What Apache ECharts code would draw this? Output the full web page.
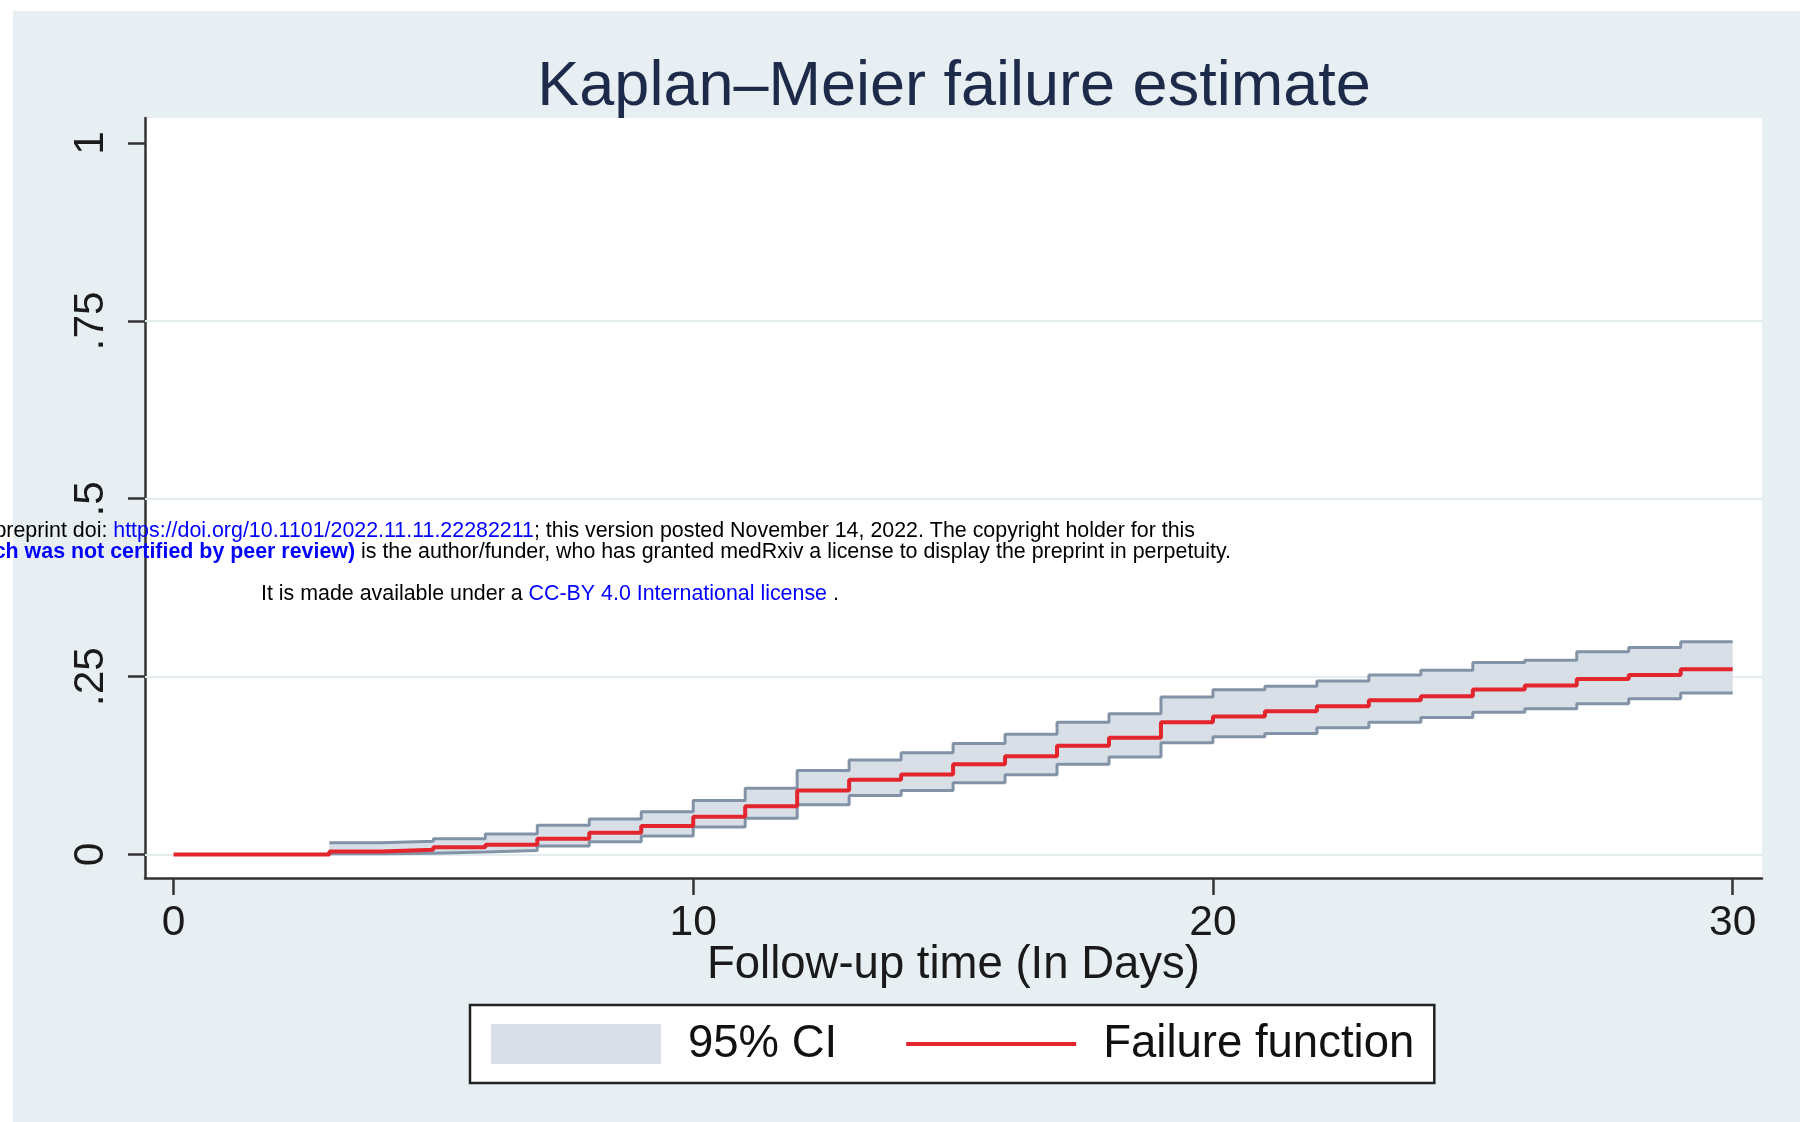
<!DOCTYPE html>
<html>
<head>
<meta charset="utf-8">
<script src="https://cdn.jsdelivr.net/npm/echarts@6/dist/echarts.min.js"></script>
<style>
html,body{margin:0;padding:0;background:#ffffff;}
#chart{width:1800px;height:1122px;}
</style>
</head>
<body>
<div id="chart"></div>
<script>
// ---- data ----
const times = [0,3,4,5,6,7,8,9,10,11,12,13,14,15,16,17,18,19,20,21,22,23,24,25,26,27,28,29,30];
const failure = [0,0.0042,0.0066,0.0103,0.0136,0.022,0.0305,0.040,0.053,0.068,0.090,0.105,0.1126,0.1267,0.138,0.153,0.164,0.186,0.194,0.2013,0.2083,0.2167,0.2224,0.2318,0.2374,0.2468,0.2524,0.2604,0.2604];
const ciTimes = [3,4,5,6,7,8,9,10,11,12,13,14,15,16,17,18,19,20,21,22,23,24,25,26,27,28,29,30];
const ciUpper = [0.0164,0.0188,0.022,0.029,0.041,0.050,0.060,0.076,0.093,0.118,0.133,0.143,0.156,0.169,0.186,0.198,0.2215,0.2315,0.2365,0.244,0.2524,0.259,0.2698,0.273,0.2848,0.291,0.2989,0.2989];
const ciLower = [0.001,0.0018,0.0035,0.0056,0.012,0.018,0.026,0.0385,0.051,0.070,0.083,0.090,0.101,0.112,0.1267,0.137,0.157,0.1655,0.170,0.178,0.186,0.1924,0.200,0.205,0.212,0.219,0.227,0.227];
const xTickValues = [0,10,20,30];
const yTickValues = [0,0.25,0.5,0.75,1];
const yTickLabels = ['0','.25','.5','.75','1'];
const yGridValues = [0,0.25,0.5,0.75];
const legendNames = ['95% CI','Failure function'];

const FONT = '"Liberation Sans", Arial, Helvetica, sans-serif';
const BG = '#E8EFF2';
const BAND = '#D9DFE7';
const OUTLINE = '#8293A7';
const RED = '#E3262D';
const GRID = '#E3ECEE';

const chart = echarts.init(document.getElementById('chart'), null, {renderer:'canvas'});

const bandData = ciTimes.map((t,i)=>[t, ciLower[i], ciUpper[i]]);
const lowerData = ciTimes.map((t,i)=>[t, ciLower[i]]);
const upperData = ciTimes.map((t,i)=>[t, ciUpper[i]]);
const failData = times.map((t,i)=>[t, failure[i]]);

function renderBand(params, api){
  if (params.dataIndex !== 0) return null;
  const n = ciTimes.length;
  const pts = [];
  for (let i=0;i<n;i++){
    pts.push(api.coord([ciTimes[i], ciUpper[i]]));
    if (i<n-1) pts.push(api.coord([ciTimes[i+1], ciUpper[i]]));
  }
  for (let i=n-1;i>=0;i--){
    if (i<n-1) pts.push(api.coord([ciTimes[i+1], ciLower[i]]));
    pts.push(api.coord([ciTimes[i], ciLower[i]]));
  }
  return {type:'polygon', shape:{points:pts}, style:{fill:BAND}, silent:true};
}

const option = {
  animation:false,
  backgroundColor: BG,
  textStyle:{fontFamily:FONT},
  title:{
    text:'Kaplan\u2013Meier failure estimate',
    left:954, top:56, padding:0,
    textAlign:'center',
    textStyle:{fontFamily:FONT, fontSize:63, fontWeight:'normal', color:'#1E2A4A'}
  },
  grid:{
    left:145, right:38, top:118, bottom:244,
    show:true, backgroundColor:'#ffffff', borderWidth:0
  },
  legend:{
    data:[
      {name:legendNames[0], icon:'rect', itemStyle:{color:BAND, borderWidth:0}},
      {name:legendNames[1], icon:'path://M0,0H170V4H0Z', itemStyle:{color:RED, borderWidth:0}}
    ],
    left:470, top:1005,
    orient:'horizontal',
    itemWidth:170, itemHeight:40, itemGap:69,
    padding:[16,20,16,21],
    backgroundColor:'#ffffff', borderColor:'#222222', borderWidth:2.5, borderRadius:0,
    textStyle:{fontFamily:FONT, fontSize:45.5, color:'#111111', padding:[0,0,0,22]},
    selectedMode:false
  },
  xAxis:{
    type:'value', min:-0.548, max:30.564,
    name:'Follow-up time (In Days)', nameLocation:'middle', nameGap:64,
    nameMoveOverlap:false,
    nameTextStyle:{fontFamily:FONT, fontSize:45.5, color:'#1a1a1a'},
    axisLine:{show:true, onZero:false, lineStyle:{color:'#333333', width:2.5}},
    axisTick:{show:true, length:17, lineStyle:{color:'#333333', width:2.5}, customValues:xTickValues},
    axisLabel:{show:true, margin:24, fontFamily:FONT, fontSize:42.5, color:'#1a1a1a', customValues:xTickValues,
               formatter:(v)=>String(v)},
    splitLine:{show:false}
  },
  yAxis:{
    type:'value', min:-0.033, max:1.0351,
    axisLine:{show:true, onZero:false, lineStyle:{color:'#333333', width:2.5}},
    axisTick:{show:true, length:17, lineStyle:{color:'#333333', width:2.5}, customValues:yTickValues},
    axisLabel:{show:true, rotate:90, margin:32, fontFamily:FONT, fontSize:42.5, color:'#1a1a1a', customValues:yTickValues,
               formatter:(v)=>{const i=yTickValues.findIndex(t=>Math.abs(t-v)<1e-9); return i>=0?yTickLabels[i]:'';}},
    splitLine:{show:false}
  },
  series:[
    {
      name:'grid', type:'line', data:[], silent:true, z:1,
      markLine:{
        z:1, silent:true, symbol:['none','none'], label:{show:false},
        lineStyle:{color:GRID, width:2, type:'solid'},
        data: yGridValues.map(v=>({yAxis:v}))
      }
    },
    {
      name:legendNames[0], type:'custom', data:bandData, renderItem:renderBand,
      encode:{x:0, y:[1,2]}, silent:true, z:2, itemStyle:{color:BAND}
    },
    {
      name:'CI lower', type:'line', step:'end', data:lowerData,
      symbol:'none', silent:true, z:3,
      lineStyle:{color:OUTLINE, width:3}, itemStyle:{color:OUTLINE}
    },
    {
      name:'CI upper', type:'line', step:'end', data:upperData,
      symbol:'none', silent:true, z:3,
      lineStyle:{color:OUTLINE, width:3}, itemStyle:{color:OUTLINE}
    },
    {
      name:legendNames[1], type:'line', step:'end', data:failData,
      symbol:'none', silent:true, z:6,
      lineStyle:{color:RED, width:4}, itemStyle:{color:RED}
    }
  ],
  graphic:[
    {type:'rect', shape:{x:0,y:0,width:1800,height:11}, style:{fill:'#ffffff'}, silent:true, z:1},
    {type:'rect', shape:{x:0,y:0,width:13,height:1122}, style:{fill:'#ffffff'}, silent:true, z:1},
    {type:'text', x:1195, y:531, z:100, silent:true,
     style:{text:'{k|medRxiv preprint doi: }{b|https://doi.org/10.1101/2022.11.11.22282211}{k|; this version posted November 14, 2022. The copyright holder for this}',
            align:'right', verticalAlign:'middle', fontFamily:FONT, fontSize:21.4, fill:'#000000',
            rich:{k:{fill:'#000000', fontSize:21.4, fontFamily:FONT}, b:{fill:'#0000FF', fontSize:21.4, fontFamily:FONT}}}},
    {type:'text', x:1231, y:552, z:100, silent:true,
     style:{text:'{k|preprint }{bb|(which was not certified by peer review)}{k| is the author/funder, who has granted medRxiv a license to display the preprint in perpetuity.}',
            align:'right', verticalAlign:'middle', fontFamily:FONT, fontSize:21.4, fill:'#000000',
            rich:{k:{fill:'#000000', fontSize:21.4, fontFamily:FONT}, bb:{fill:'#0000FF', fontSize:21.4, fontWeight:'bold', fontFamily:FONT}}}},
    {type:'text', x:261, y:594, z:100, silent:true,
     style:{text:'{k|It is made available under a }{b|CC-BY 4.0 International license}{k| .}',
            align:'left', verticalAlign:'middle', fontFamily:FONT, fontSize:21.4, fill:'#000000',
            rich:{k:{fill:'#000000', fontSize:21.4, fontFamily:FONT}, b:{fill:'#0000FF', fontSize:21.4, fontFamily:FONT}}}}
  ]
};
chart.setOption(option);
</script>
</body>
</html>
